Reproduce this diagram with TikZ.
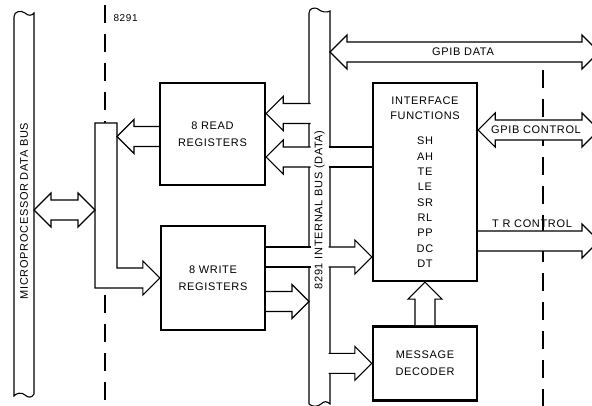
\documentclass[tikz,border=0pt]{standalone}
\usepackage{fontspec}
\setsansfont{Liberation Sans}[LetterSpace=6.0]
\usepackage{tikz}
\usetikzlibrary{calc, positioning}
\tikzset{
  regbox/.style={
    draw, line width=2.4pt, align=center, inner sep=0pt,
    font=\sffamily\fontsize{11}{16.5}\selectfont,
    minimum width=104, minimum height=102
  },
  funcbox/.style={
    draw, line width=2.4pt, align=center, inner sep=0pt,
    font=\sffamily\fontsize{11}{15.3}\selectfont,
    minimum width=104, minimum height=198
  },
  busarrow/.style={
    draw, fill=white, line width=1.1pt, line join=miter
  },
  chipedge/.style={
    line width=1.1pt, dash pattern=on 18pt off 11pt
  },
  buslabel/.style={
    font=\sffamily\fontsize{11}{13}\selectfont, rotate=90
  },
  sidelabel/.style={
    font=\sffamily\fontsize{11}{13}\selectfont
  },
}
% hollow bus arrows: tail point, tip point (same row)
\newcommand{\fatright}[2]{%
  \path[busarrow] ($(#1)+(0,-10)$) -- ($(#2)+(-17,-10)$) -- ($(#2)+(-17,-17)$) -- (#2)
    -- ($(#2)+(-17,17)$) -- ($(#2)+(-17,10)$) -- ($(#1)+(0,10)$);}
\newcommand{\fatleft}[2]{%
  \path[busarrow] ($(#1)+(0,-10)$) -- ($(#2)+(17,-10)$) -- ($(#2)+(17,-17)$) -- (#2)
    -- ($(#2)+(17,17)$) -- ($(#2)+(17,10)$) -- ($(#1)+(0,10)$);}
\newcommand{\fatup}[2]{%
  \path[busarrow] ($(#1)+(-10,0)$) -- ($(#2)+(-10,17)$) -- ($(#2)+(-17,17)$) -- (#2)
    -- ($(#2)+(17,17)$) -- ($(#2)+(10,17)$) -- ($(#1)+(10,0)$);}
\newcommand{\fatboth}[2]{%
  \path[busarrow] (#1) -- ($(#1)+(17,-17)$) -- ($(#1)+(17,-10)$) -- ($(#2)+(-17,-10)$)
    -- ($(#2)+(-17,-17)$) -- (#2) -- ($(#2)+(-17,17)$) -- ($(#2)+(-17,10)$)
    -- ($(#1)+(17,10)$) -- ($(#1)+(17,17)$) -- cycle;}
\newcommand{\band}[2]{%
  \fill[white] ($(#1)+(0,-10)$) rectangle ($(#2)+(0,10)$);
  \draw[line width=1.1pt] ($(#1)+(0,-10)$) -- ($(#2)+(0,-10)$)
    ($(#1)+(0,10)$) -- ($(#2)+(0,10)$);}

\begin{document}
\begin{tikzpicture}[x=1pt, y=-1pt]
  \useasboundingbox (0,0) rectangle (592,406);

  % blocks
  \node[regbox, minimum width=105] (readreg) at (212.5,134) {8 READ\\REGISTERS};
  \node[regbox, minimum height=104] (writereg) at (213,278) {8 WRITE\\REGISTERS};
  \node[funcbox] (iface) at (425,182)
    {INTERFACE\\FUNCTIONS\\[10pt]SH\\AH\\TE\\LE\\SR\\RL\\PP\\DC\\DT};
  \node[regbox, minimum height=74, below=43pt of iface] (msgdec) {MESSAGE\\DECODER};

  % bus edges and rows
  \coordinate (mpuE) at (34,0);
  \coordinate (lbusNW) at (95,123);
  \coordinate (lbusNE) at (117,123);
  \coordinate (ibusW) at (309,0);
  \coordinate (ibusWin) at (310.5,0);
  \coordinate (ibusE) at (330,0);
  \coordinate (ibusEin) at (328.5,0);
  \coordinate (edgeR) at (599,0);
  \coordinate (gpibData) at (0,52);
  \coordinate (rdUp) at (0,113.5);
  \coordinate (gpibCtl) at (0,130);
  \coordinate (rdOut) at (0,136.5);
  \coordinate (rdLow) at (0,157);
  \coordinate (mpuRow) at (0,210);
  \coordinate (trCtl) at (0,241);
  \coordinate (wrBand) at (0,257);
  \coordinate (wrOut) at (0,301.5);

  % chip boundary
  \draw[chipedge] (105,5) -- (105,406);
  \draw[chipedge] (543,70) -- (543,406);
  \node[sidelabel, font=\sffamily\fontsize{10}{12}\selectfont, anchor=west] (chip) at (110,18) {8291};

  % microprocessor data bus
  \path[busarrow] (14,392) -- (14,17) .. controls (14,11) and (21,10) .. (25,13)
    .. controls (28,16) and (32,16) .. (34,13) -- (34,394)
    .. controls (32,398) and (28,398) .. (25,395)
    .. controls (22,392) and (16,393) .. (14,396) -- cycle;
  \node[buslabel] (mpulbl) at (24,211) {MICROPROCESSOR DATA BUS};

  % local bus into write registers
  \path[busarrow] (lbusNE) -- (lbusNW) -- ($(lbusNW |- writereg.west)+(0,10)$)
    -- ($(writereg.west)+(-17,10)$) -- ($(writereg.west)+(-17,17)$) -- (writereg.west)
    -- ($(writereg.west)+(-17,-17)$) -- ($(writereg.west)+(-17,-10)$)
    -- ($(lbusNE |- writereg.west)+(0,-10)$) -- cycle;
  \fatboth{mpuE |- mpuRow}{lbusNW |- mpuRow}
  \fatleft{readreg.west |- rdOut}{lbusNE |- rdOut}

  % internal bus
  \path[busarrow] (309,404) -- (309,13) .. controls (309,8) and (315,7) .. (318,9)
    .. controls (321,12) and (327,13) .. (330,11) -- (330,404)
    .. controls (327,401) and (324,401) .. (321,404)
    .. controls (318,407) and (312,407) .. (309,404);

  \fatleft{ibusWin |- rdUp}{readreg.east |- rdUp}
  \fatleft{ibusWin |- rdLow}{readreg.east |- rdLow}
  \band{ibusEin |- rdLow}{iface.west |- rdLow}
  \band{writereg.east |- wrBand}{ibusWin |- wrBand}
  \fatright{ibusEin |- wrBand}{iface.west |- wrBand}
  \fatright{writereg.east |- wrOut}{ibusW |- wrOut}
  \fatright{ibusEin |- msgdec.west}{msgdec.west}
  \node[buslabel] (ibuslbl) at (319.5,210) {8291 INTERNAL BUS (DATA)};

  % GPIB side
  \fatboth{ibusE |- gpibData}{edgeR |- gpibData}
  \node[sidelabel] (datalbl) at (463,52) {GPIB DATA};
  \fatboth{iface.east |- gpibCtl}{edgeR |- gpibCtl}
  \node[sidelabel] (ctllbl) at (536,130) {GPIB CONTROL};
  \fatright{iface.east |- trCtl}{edgeR |- trCtl}
  \node[sidelabel] (trlbl) at (532,224) {T R CONTROL};

  % decoder into interface functions
  \fatup{msgdec.north}{iface.south}
\end{tikzpicture}
\end{document}
